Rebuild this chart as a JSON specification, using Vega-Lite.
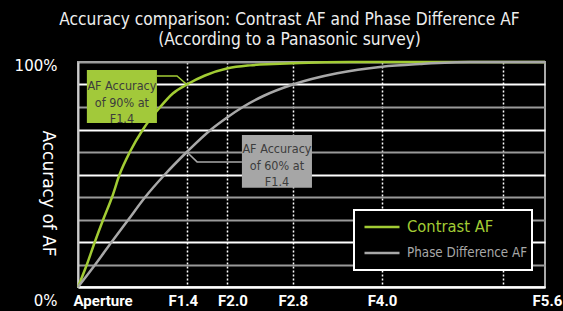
{
  "$schema": "https://vega.github.io/schema/vega-lite/v6.json",
  "width": 467,
  "height": 225,
  "autosize": {"type": "none"},
  "padding": {"left": 78, "top": 62, "right": 18, "bottom": 24},
  "background": "#000000",
  "title": {
    "text": ["Accuracy comparison: Contrast AF and Phase Difference AF", "(According to a Panasonic survey)"],
    "color": "#eeeeee",
    "font": "DejaVu Sans Condensed, sans-serif",
    "fontSize": 17.2,
    "fontWeight": "normal",
    "lineHeight": 20,
    "anchor": "middle",
    "baseline": "bottom",
    "dx": -22,
    "dy": 24,
    "offset": 15
  },
  "config": {
    "view": {"stroke": "#aaaaaa", "strokeWidth": 2},
    "font": "DejaVu Sans Condensed, sans-serif"
  },
  "datasets": {
    "curves": [
      {"series": "Contrast AF", "pos": 0, "acc": 0},
      {"series": "Contrast AF", "pos": 1.9, "acc": 10},
      {"series": "Contrast AF", "pos": 3.6, "acc": 20},
      {"series": "Contrast AF", "pos": 5.4, "acc": 30},
      {"series": "Contrast AF", "pos": 7.3, "acc": 40},
      {"series": "Contrast AF", "pos": 8.9, "acc": 50},
      {"series": "Contrast AF", "pos": 11.1, "acc": 60},
      {"series": "Contrast AF", "pos": 13.9, "acc": 70},
      {"series": "Contrast AF", "pos": 17.6, "acc": 80},
      {"series": "Contrast AF", "pos": 20.3, "acc": 86},
      {"series": "Contrast AF", "pos": 23.3, "acc": 90},
      {"series": "Contrast AF", "pos": 27.2, "acc": 94},
      {"series": "Contrast AF", "pos": 32.1, "acc": 97.2},
      {"series": "Contrast AF", "pos": 36.8, "acc": 98.5},
      {"series": "Contrast AF", "pos": 41.8, "acc": 99.1},
      {"series": "Contrast AF", "pos": 47.5, "acc": 99.6},
      {"series": "Contrast AF", "pos": 58.2, "acc": 100},
      {"series": "Contrast AF", "pos": 100, "acc": 100},
      {"series": "Phase Difference AF", "pos": 0, "acc": 0},
      {"series": "Phase Difference AF", "pos": 3.7, "acc": 10},
      {"series": "Phase Difference AF", "pos": 7.2, "acc": 20},
      {"series": "Phase Difference AF", "pos": 10.8, "acc": 30},
      {"series": "Phase Difference AF", "pos": 14.4, "acc": 40},
      {"series": "Phase Difference AF", "pos": 18.6, "acc": 50},
      {"series": "Phase Difference AF", "pos": 23.3, "acc": 60},
      {"series": "Phase Difference AF", "pos": 28.5, "acc": 70},
      {"series": "Phase Difference AF", "pos": 31.7, "acc": 75},
      {"series": "Phase Difference AF", "pos": 35.3, "acc": 80},
      {"series": "Phase Difference AF", "pos": 39.8, "acc": 85},
      {"series": "Phase Difference AF", "pos": 46.0, "acc": 90},
      {"series": "Phase Difference AF", "pos": 55.5, "acc": 95},
      {"series": "Phase Difference AF", "pos": 65.1, "acc": 97.9},
      {"series": "Phase Difference AF", "pos": 73.2, "acc": 99.1},
      {"series": "Phase Difference AF", "pos": 83.9, "acc": 100},
      {"series": "Phase Difference AF", "pos": 100, "acc": 100}
    ],
    "leaders": [
      {"series": "Contrast AF", "pos": 16.9, "acc": 93.8, "order": 1},
      {"series": "Contrast AF", "pos": 21.2, "acc": 93.8, "order": 2},
      {"series": "Contrast AF", "pos": 23.3, "acc": 90, "order": 3},
      {"series": "Phase Difference AF", "pos": 23.3, "acc": 60, "order": 1},
      {"series": "Phase Difference AF", "pos": 25.5, "acc": 55.6, "order": 2},
      {"series": "Phase Difference AF", "pos": 35.1, "acc": 55.6, "order": 3}
    ],
    "boxes": [
      {"series": "Contrast AF", "x1": 1.9, "x2": 16.9, "y1": 96.4, "y2": 72.9, "xc": 9.4, "yc": 92.0, "label": "AF Accuracy\nof 90% at\nF1.4"},
      {"series": "Phase Difference AF", "x1": 35.1, "x2": 50.1, "y1": 67.6, "y2": 44.1, "xc": 42.6, "yc": 64.0, "label": "AF Accuracy\nof 60% at\nF1.4"}
    ]
  },
  "encoding": {
    "x": {
      "field": "pos",
      "type": "quantitative",
      "scale": {"domain": [0, 100], "nice": false, "zero": false},
      "axis": {
        "title": null,
        "values": [0, 23.3, 32, 46, 65.1, 91, 100],
        "labelExpr": "datum.value == 0 ? 'Aperture' : datum.value == 23.3 ? 'F1.4' : datum.value == 32 ? 'F2.0' : datum.value == 46 ? 'F2.8' : datum.value == 65.1 ? 'F4.0' : datum.value == 100 ? 'F5.6' : ''",
        "labelColor": "#ffffff",
        "labelFont": "Roboto",
        "labelFontSize": 15,
        "labelFontWeight": "bold",
        "labelPadding": 6,
        "labelFlush": false,
        "labelOverlap": false,
        "labelAlign": {"condition": {"test": "datum.value == 0", "value": "left"}, "value": "center"},
        "labelOffset": {"condition": [{"test": "datum.value == 0", "value": -5}, {"test": "datum.value == 23.3", "value": -4}, {"test": "datum.value == 32", "value": 5}, {"test": "datum.value == 100", "value": 2}], "value": 0},
        "ticks": false,
        "domainColor": "#ffffff",
        "domainWidth": 2,
        "grid": true,
        "gridColor": "#ffffff",
        "gridDash": [2, 2],
        "gridWidth": 1.5,
        "gridOpacity": {"condition": {"test": "datum.value == 0 || datum.value == 100", "value": 0}, "value": 1}
      }
    },
    "y": {
      "field": "acc",
      "type": "quantitative",
      "scale": {"domain": [0, 100], "nice": false},
      "axis": {
        "title": "Accuracy of AF",
        "titleAngle": 90,
        "titleFont": "DejaVu Sans",
        "titleFontSize": 17,
        "titleFontWeight": "normal",
        "titleColor": "#ffffff",
        "titleX": -31,
        "titleY": 131,
        "titleAlign": "center",
        "titleBaseline": "middle",
        "values": [0, 10, 20, 30, 40, 50, 60, 70, 80, 90, 100],
        "labelExpr": "datum.value == 100 ? '100%' : datum.value == 0 ? '0%' : ''",
        "labelFont": "DejaVu Sans",
        "labelFontSize": 15,
        "labelColor": "#ffffff",
        "labelPadding": 21,
        "labelOffset": {"condition": [{"test": "datum.value == 0", "value": 13}, {"test": "datum.value == 100", "value": 3}], "value": 0},
        "ticks": false,
        "domainColor": "#cccccc",
        "domainWidth": 2,
        "grid": true,
        "gridWidth": 1.8,
        "gridColor": {"condition": {"test": "datum.value == 90 || datum.value == 70 || datum.value == 50 || datum.value == 20 || datum.value == 0", "value": "#ffffff"}, "value": "#9a9a9a"}
      }
    }
  },
  "layer": [
    {
      "data": {"name": "curves"},
      "mark": {"type": "line", "interpolate": "monotone", "strokeWidth": 2.5},
      "encoding": {
        "color": {
          "field": "series",
          "type": "nominal",
          "scale": {"domain": ["Contrast AF", "Phase Difference AF"], "range": ["#a2cc34", "#a8a8a8"]},
          "legend": {
            "title": null,
            "orient": "none",
            "legendX": 276,
            "legendY": 148,
            "symbolType": "stroke",
            "symbolSize": 1225,
            "symbolStrokeWidth": 2.5,
            "clipHeight": 26,
            "rowPadding": 0,
            "padding": 4,
            "symbolOffset": 5,
            "labelOffset": 6,
            "labelFont": "DejaVu Sans Condensed, sans-serif",
            "labelFontSize": 14,
            "fillColor": "#000000",
            "strokeColor": "#ffffff",
            "labelLimit": 200,
            "encode": {
              "labels": {"update": {
                "fill": {"signal": "scale('color', datum.value)"},
                "fontSize": {"signal": "datum.value == 'Contrast AF' ? 16.4 : 13.3"}
              }},
              "legend": {"update": {"strokeWidth": {"value": 2}}}
            }
          }
        }
      }
    },
    {
      "data": {"name": "leaders"},
      "mark": {"type": "line", "strokeWidth": 1.5},
      "encoding": {
        "order": {"field": "order", "type": "quantitative"},
        "detail": {"field": "series"},
        "stroke": {
          "field": "series",
          "type": "nominal",
          "scale": {"domain": ["Contrast AF", "Phase Difference AF"], "range": ["#a2cc34", "#a8a8a8"]},
          "legend": null
        }
      }
    },
    {
      "data": {"name": "boxes"},
      "mark": {"type": "rect"},
      "encoding": {
        "x": {"field": "x1", "type": "quantitative"},
        "x2": {"field": "x2"},
        "y": {"field": "y1", "type": "quantitative"},
        "y2": {"field": "y2"},
        "fill": {
          "field": "series",
          "type": "nominal",
          "scale": {"domain": ["Contrast AF", "Phase Difference AF"], "range": ["#a2c93a", "#a6a6a6"]},
          "legend": null
        }
      }
    },
    {
      "data": {"name": "boxes"},
      "mark": {"type": "text", "lineBreak": "\n", "lineHeight": 16.5, "fontSize": 12.5, "font": "DejaVu Sans Condensed, sans-serif", "color": "#3c3c3c", "baseline": "top", "align": "center"},
      "encoding": {
        "x": {"field": "xc", "type": "quantitative"},
        "y": {"field": "yc", "type": "quantitative"},
        "text": {"field": "label"}
      }
    }
  ]
}
